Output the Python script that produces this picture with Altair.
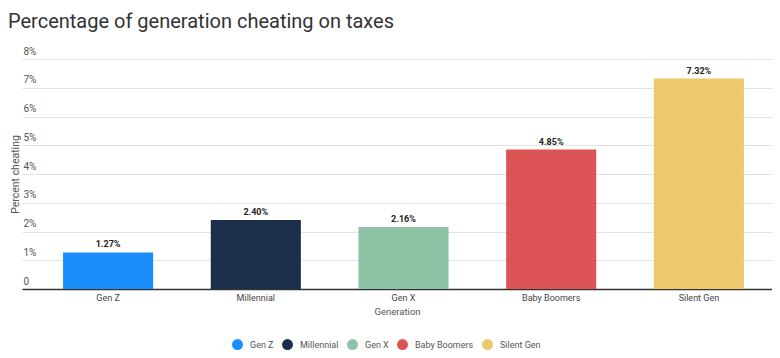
import altair as alt
import pandas as pd

generations = ["Gen Z", "Millennial", "Gen X", "Baby Boomers", "Silent Gen"]
percent_cheating = [1.27, 2.40, 2.16, 4.85, 7.32]
colors = ["#1a8ffc", "#1b2f4b", "#8fc3a5", "#dc5356", "#eec86c"]
y_ticks = [0, 1, 2, 3, 4, 5, 6, 7, 8]

df = pd.DataFrame({"Generation": generations, "Percent": percent_cheating})
df["Label"] = [f"{v:.2f}%" for v in percent_cheating]

x_enc = alt.X(
    "Generation:N",
    sort=generations,
    scale=alt.Scale(paddingInner=0.39, paddingOuter=0.234, align=0.594),
    axis=alt.Axis(
        title="Generation",
        labelAngle=0,
        ticks=False,
        labelPadding=4,
        labelFontSize=9,
        labelColor="#444444",
        titleFontSize=9.5,
        titleFontWeight="normal",
        titleColor="#555555",
        titlePadding=4,
        domainColor="#333333",
        domainWidth=1.5,
        grid=False,
    ),
)

y_enc = alt.Y(
    "Percent:Q",
    scale=alt.Scale(domain=[0, 8], nice=False),
    axis=alt.Axis(
        title="Percent cheating",
        values=y_ticks,
        labelOverlap=False,
        labelExpr="datum.value == 0 ? '0' : datum.value + '%'",
        labelAlign="left",
        labelBaseline="bottom",
        labelPadding=-1,
        labelOffset=-3,
        labelFontSize=10,
        labelColor="#555555",
        ticks=False,
        domain=False,
        gridColor="#e3e3e3",
        titleX=-7,
        titleY=115,
        titleAngle=270,
        titleAlign="center",
        titleBaseline="middle",
        titleFontSize=10.5,
        titleFontWeight="normal",
        titleColor="#555555",
    ),
)

base = alt.Chart(df).encode(x=x_enc, y=y_enc)

bars = base.mark_bar().encode(
    color=alt.Color(
        "Generation:N",
        sort=generations,
        scale=alt.Scale(domain=generations, range=colors),
        legend=alt.Legend(
            title=None,
            orient="none",
            direction="horizontal",
            legendX=210,
            legendY=280,
            symbolType="circle",
            symbolSize=120,
            symbolStrokeWidth=0,
            labelFontSize=9,
            labelColor="#555555",
            labelOffset=7,
            columnPadding=8,
        ),
    ),
)

labels = base.mark_text(
    baseline="bottom", dy=-3, fontSize=9, fontWeight="bold", color="#222222"
).encode(text="Label:N")

chart = (
    alt.layer(bars, labels)
    .properties(
        width=750,
        height=230,
        autosize=alt.AutoSizeParams(type="none"),
        padding={"left": 14, "top": 51, "right": 0, "bottom": 61},
        title=alt.TitleParams(
            "Percentage of generation cheating on taxes",
            anchor="start",
            frame="group",
            dx=-14,
            fontSize=20,
            fontWeight="normal",
            color="#333333",
            font="Roboto",
            offset=14,
        ),
    )
    .configure(font="Roboto")
    .configure_view(stroke=None)
)

chart.save("out.html", embed_options={"renderer": "svg", "actions": False})
